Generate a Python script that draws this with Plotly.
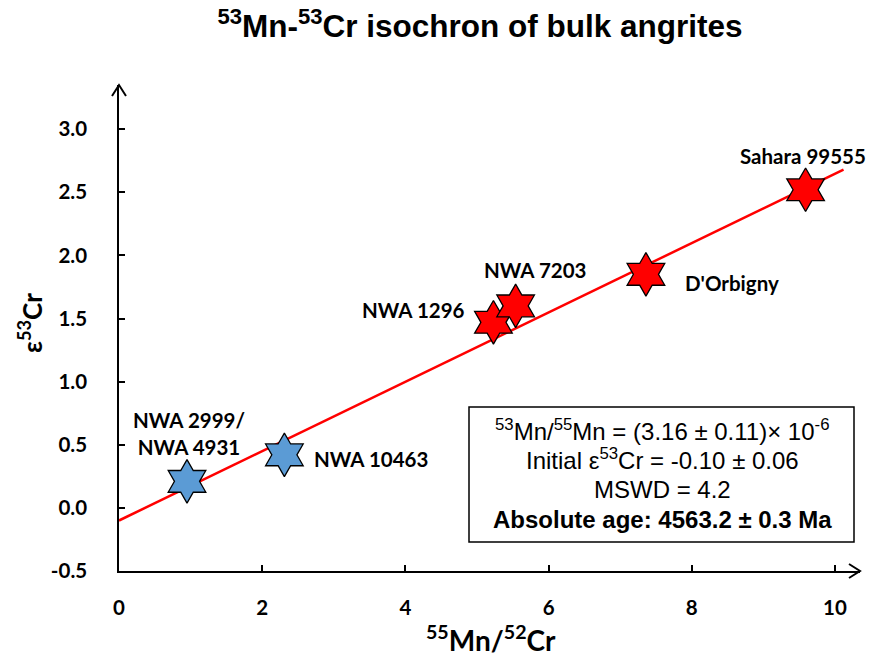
import plotly.graph_objects as go

# ---- data ----
names = ["NWA 2999/<br>NWA 4931", "NWA 10463", "NWA 1296", "NWA 7203", "D'Orbigny", "Sahara 99555"]
mn_cr = [0.95, 2.31, 5.23, 5.54, 7.36, 9.59]
eps_cr = [0.21, 0.42, 1.47, 1.60, 1.85, 2.52]
groups = ["blue", "blue", "red", "red", "red", "red"]
fit_x = [0.0, 10.12]
fit_y = [-0.10, 2.68]
x_ticks = [0, 2, 4, 6, 8, 10]
x_ticktext = ["0", "2", "4", "6", "8", "10"]
y_ticks = [-0.5, 0.0, 0.5, 1.0, 1.5, 2.0, 2.5, 3.0]
y_ticktext = ["-0.5", "0.0", "0.5", "1.0", "1.5", "2.0", "2.5", "3.0"]
box_lines = [
    "<sup>53</sup>Mn/<sup>55</sup>Mn = (3.16 ± 0.11)× 10<sup>-6</sup>",
    "Initial ε<sup>53</sup>Cr = -0.10 ± 0.06",
    "MSWD = 4.2",
    "<b>Absolute age: 4563.2 ± 0.3 Ma</b>",
]

# label placement (pixel offsets from marker)
label_style = [
    dict(xshift=2, yshift=48, xanchor="center"),
    dict(xshift=28, yshift=-4, xanchor="left"),
    dict(xshift=-26, yshift=12, xanchor="right"),
    dict(xshift=19, yshift=36, xanchor="center"),
    dict(xshift=37, yshift=-9, xanchor="left"),
    dict(xshift=-3, yshift=34, xanchor="center"),
]

color_map = {"blue": "#5B9BD5", "red": "#FF0000"}
LAB = "Lato, 'Open Sans', sans-serif"
ARIAL = "'Liberation Sans', Arial, sans-serif"

# plot-area geometry in screenshot pixels (for paper conversions)
PX0, PX1, PY0, PY1 = 119, 860, 85, 571
def px(xp):
    return (xp - PX0) / (PX1 - PX0)
def py(yp):
    return (PY1 - yp) / (PY1 - PY0)

fig = go.Figure()
fig.add_trace(go.Scatter(x=fit_x, y=fit_y, mode="lines",
                         line=dict(color="#FF0000", width=2.5), hoverinfo="skip"))
fig.add_trace(go.Scatter(
    x=mn_cr, y=eps_cr, mode="markers",
    marker=dict(symbol="hexagram", size=33,
                color=[color_map[g] for g in groups],
                line=dict(color="black", width=1.3)),
))

annotations = []
for n, xv, yv, st in zip(names, mn_cr, eps_cr, label_style):
    annotations.append(dict(x=xv, y=yv, xref="x", yref="y", text=f"<b>{n}</b>",
                            showarrow=False, font=dict(family=LAB, size=20.5, color="black"),
                            yanchor="middle", **st))

# stats box text
line_y_px = [430, 459, 489, 519]
for t, yy in zip(box_lines, line_y_px):
    annotations.append(dict(x=px(662), y=py(yy), xref="paper", yref="paper",
                            text=t, showarrow=False, xanchor="center", yanchor="middle",
                            font=dict(family=ARIAL, size=24, color="black")))

# axis titles
annotations.append(dict(x=px(30), y=py(323), xref="paper", yref="paper",
                        text="<b>ε<sup>53</sup>Cr</b>", textangle=-90, showarrow=False,
                        font=dict(family=LAB, size=26, color="black"),
                        xanchor="center", yanchor="middle"))
annotations.append(dict(x=px(491), y=py(638), xref="paper", yref="paper",
                        text="<b><sup>55</sup>Mn/<sup>52</sup>Cr</b>", showarrow=False,
                        font=dict(family=LAB, size=28, color="black"),
                        xanchor="center", yanchor="middle"))

shapes = [
    # stats box
    dict(type="rect", xref="paper", yref="paper",
         x0=px(469), x1=px(854), y0=py(542), y1=py(407),
         line=dict(color="black", width=1.5), fillcolor="white", layer="below"),
    # arrowheads (open, at the axis ends)
    dict(type="path", xref="paper", yref="paper", xsizemode="pixel", ysizemode="pixel",
         xanchor=0, yanchor=1, path="M -7,-11 L 0,0 L 7,-11",
         line=dict(color="black", width=2)),
    dict(type="path", xref="paper", yref="paper", xsizemode="pixel", ysizemode="pixel",
         xanchor=1, yanchor=0, path="M -11,7 L 0,0 L -11,-7",
         line=dict(color="black", width=2)),
]

W, H, OFF = 875, 660, 8  # page body margin offset
fig.update_layout(
    width=W - OFF, height=H - OFF,
    margin=dict(l=PX0 - OFF, r=W - PX1, t=PY0 - OFF, b=H - PY1),
    paper_bgcolor="white", plot_bgcolor="white",
    showlegend=False,
    title=dict(text="<b><sup>53</sup>Mn-<sup>53</sup>Cr isochron of bulk angrites</b>",
               x=(480 - OFF) / (W - OFF), xanchor="center",
               y=1 - (26 - OFF) / (H - OFF), yanchor="middle",
               font=dict(family=ARIAL, size=31.5, color="black")),
    xaxis=dict(range=[0, 10.35], tickvals=x_ticks, ticktext=[f"<b>{t}</b>" for t in x_ticktext],
               ticks="inside", ticklen=6, tickwidth=1.5,
               tickcolor="black", showline=True, linecolor="black", linewidth=1.5,
               showgrid=False, zeroline=False, ticklabelstandoff=18,
               tickfont=dict(family=LAB, size=20.5, color="black")),
    yaxis=dict(range=[-0.5, 3.35], tickvals=y_ticks, ticktext=[f"<b>{t}</b>" for t in y_ticktext],
               ticks="inside", ticklen=6, tickwidth=1.5, tickcolor="black", showline=True,
               linecolor="black", linewidth=1.5, showgrid=False, zeroline=False,
               ticklabelstandoff=26,
               tickfont=dict(family=LAB, size=20.5, color="black")),
    annotations=annotations,
    shapes=shapes,
)

fig.write_html("out.html")
